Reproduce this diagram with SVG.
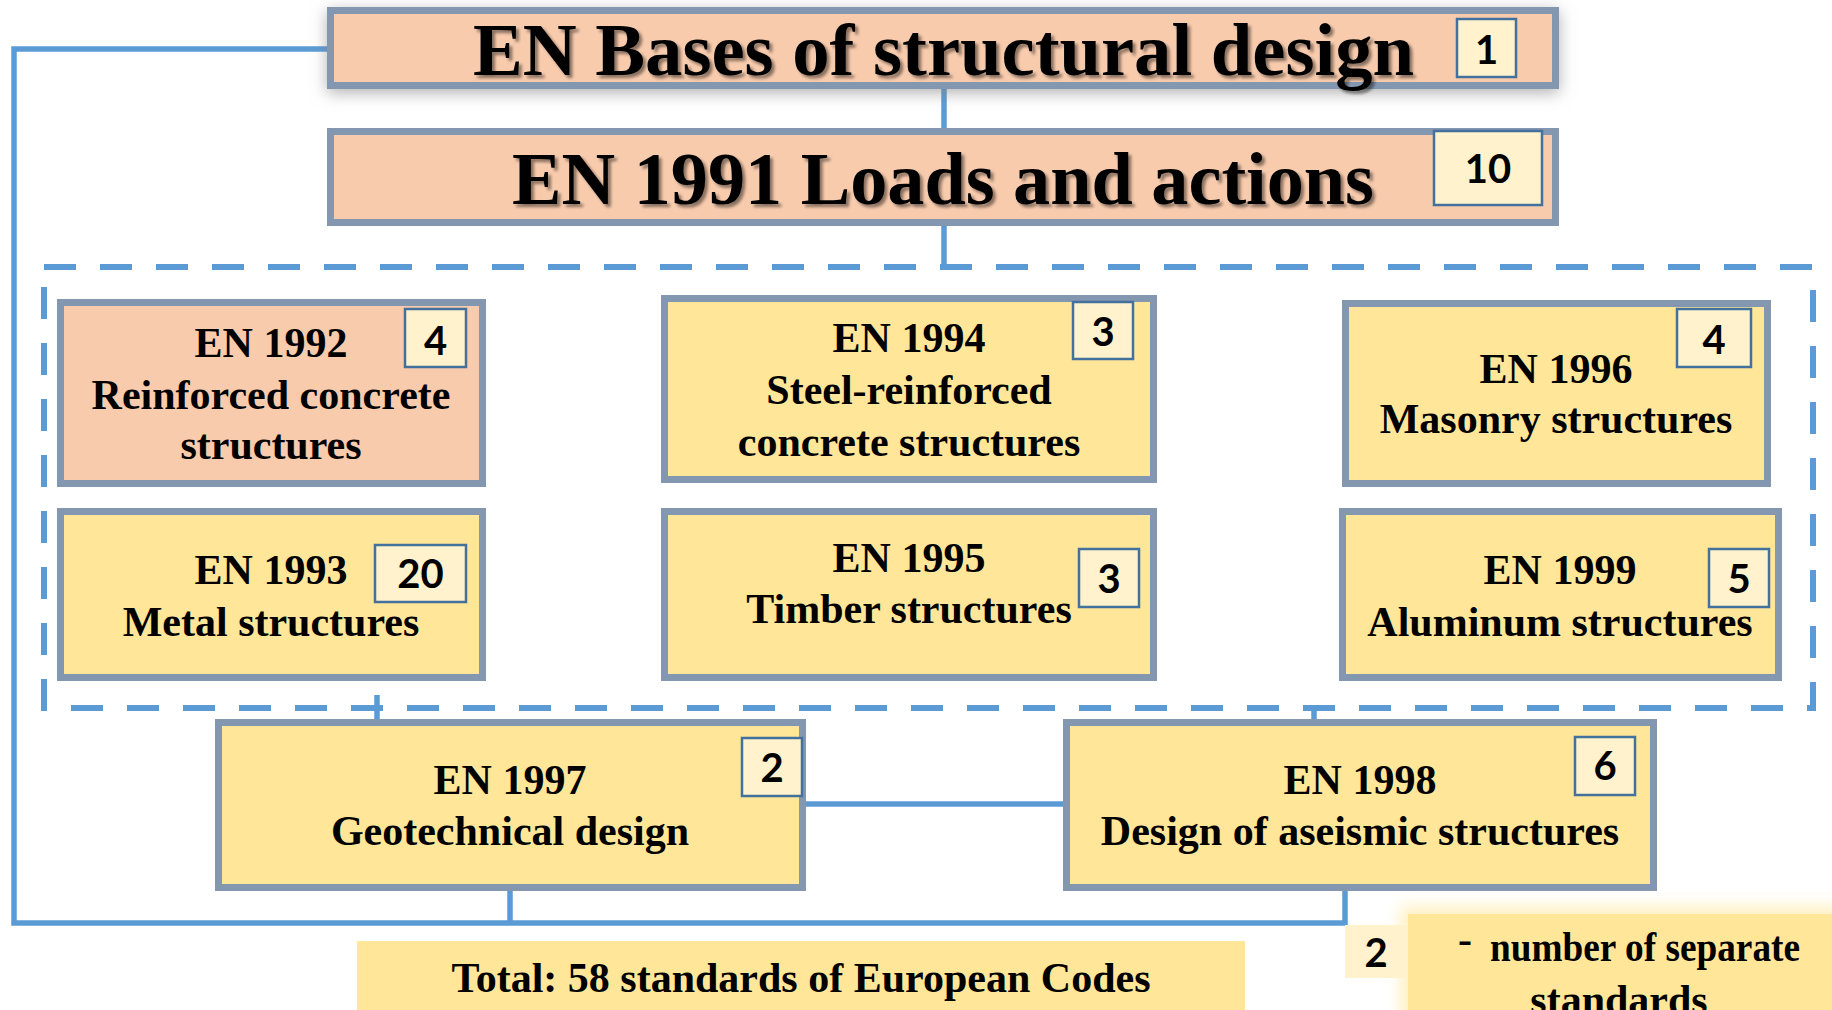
<svg xmlns="http://www.w3.org/2000/svg" width="1832" height="1010" viewBox="0 0 1832 1010">
<defs>
<filter id="boxShadow" x="-5%" y="-40%" width="110%" height="190%">
<feDropShadow dx="0" dy="4" stdDeviation="8" flood-color="#7f7f7f" flood-opacity="0.6"/>
</filter>
<filter id="txtShadow" x="-5%" y="-20%" width="110%" height="150%">
<feDropShadow dx="3" dy="3" stdDeviation="1.5" flood-color="#000" flood-opacity="0.45"/>
</filter>
<filter id="glow" x="-20%" y="-30%" width="140%" height="160%">
<feGaussianBlur stdDeviation="8"/>
</filter>
<style>
.conn{fill:none;stroke:#5B9BD5;stroke-width:5.5}
.dash{fill:none;stroke:#5B9BD5;stroke-width:6;stroke-dasharray:32 24}
.peach{fill:#F8CBAD;stroke:#8497B0;stroke-width:7}
.yel{fill:#FFE699;stroke:#8497B0;stroke-width:7}
.badge{fill:#FFF2CC;stroke:#41719C;stroke-width:2.5}
.t{font-family:"Liberation Serif","Times New Roman",serif;font-weight:bold;font-size:42px;fill:#000;text-anchor:middle}
.title{font-family:"Liberation Serif","Times New Roman",serif;font-weight:bold;font-size:74px;fill:#000;text-anchor:middle}
.n{font-family:Lato,"Liberation Sans",sans-serif;font-weight:bold;font-size:40px;fill:#000;text-anchor:middle}
</style>
</defs>
<rect width="1832" height="1010" fill="#fff"/>

<g id="connectors">
<path class="conn" d="M327,49 L14,49 L14,923 L1345,923 L1345,891"/>
<path class="conn" d="M944,89 V128"/>
<path class="conn" d="M944,226 V267"/>
<path class="conn" d="M510,891 V923"/>
<path class="conn" d="M806,804 H1063"/>
<path class="conn" d="M377,695 V719"/>
<path class="conn" d="M1314,706 V719"/>
<rect id="group-frame" class="dash" x="44" y="267" width="1769" height="441"/>
</g>

<g id="node-bases">
<rect class="peach" x="330.5" y="10.5" width="1225" height="75" filter="url(#boxShadow)"/>
<text class="title" x="943.5" y="75" textLength="941" lengthAdjust="spacingAndGlyphs" filter="url(#txtShadow)">EN Bases of structural design</text>
<rect class="badge" x="1457" y="19" width="59" height="58"/>
<text class="n" x="1486.5" y="64">1</text>
</g>

<g id="node-1991">
<rect class="peach" x="330.5" y="131.5" width="1225" height="91"/>
<text class="title" x="943" y="204" textLength="862" lengthAdjust="spacingAndGlyphs" filter="url(#txtShadow)">EN 1991 Loads and actions</text>
<rect class="badge" x="1434" y="131" width="108" height="74"/>
<text class="n" x="1488" y="183" font-size="36">10</text>
</g>

<g id="node-1992">
<rect class="peach" x="60.5" y="302.5" width="422" height="181"/>
<text class="t" x="271"><tspan x="271" y="357">EN 1992</tspan><tspan x="271" y="409">Reinforced concrete</tspan><tspan x="271" y="459">structures</tspan></text>
<rect class="badge" x="405" y="309" width="61" height="58"/>
<text class="n" x="435.5" y="355">4</text>
</g>

<g id="node-1993">
<rect class="yel" x="60.5" y="511.5" width="422" height="166"/>
<text class="t"><tspan x="271" y="584">EN 1993</tspan><tspan x="271" y="636">Metal structures</tspan></text>
<rect class="badge" x="375" y="545" width="91" height="57"/>
<text class="n" x="420.5" y="588" font-size="38">20</text>
</g>

<g id="node-1994">
<rect class="yel" x="664.5" y="298.5" width="489" height="181"/>
<text class="t"><tspan x="909" y="352">EN 1994</tspan><tspan x="909" y="404">Steel-reinforced</tspan><tspan x="909" y="456">concrete structures</tspan></text>
<rect class="badge" x="1073" y="302" width="60" height="57"/>
<text class="n" x="1103" y="346">3</text>
</g>

<g id="node-1995">
<rect class="yel" x="664.5" y="511.5" width="489" height="166"/>
<text class="t"><tspan x="909" y="572">EN 1995</tspan><tspan x="909" y="623">Timber structures</tspan></text>
<rect class="badge" x="1079" y="549" width="60" height="58"/>
<text class="n" x="1109" y="593">3</text>
</g>

<g id="node-1996">
<rect class="yel" x="1345.5" y="303.5" width="422" height="180"/>
<text class="t"><tspan x="1556" y="383">EN 1996</tspan><tspan x="1556" y="433">Masonry structures</tspan></text>
<rect class="badge" x="1677" y="309" width="74" height="58"/>
<text class="n" x="1714" y="354">4</text>
</g>

<g id="node-1999">
<rect class="yel" x="1342.5" y="511.5" width="436" height="166"/>
<text class="t"><tspan x="1560" y="584">EN 1999</tspan><tspan x="1560" y="636">Aluminum structures</tspan></text>
<rect class="badge" x="1709" y="549" width="60" height="58"/>
<text class="n" x="1739" y="593">5</text>
</g>

<g id="node-1997">
<rect class="yel" x="218.5" y="722.5" width="584" height="165"/>
<text class="t"><tspan x="510" y="794">EN 1997</tspan><tspan x="510" y="845">Geotechnical design</tspan></text>
<rect class="badge" x="742" y="738" width="60" height="58"/>
<text class="n" x="772" y="782">2</text>
</g>

<g id="node-1998">
<rect class="yel" x="1066.5" y="722.5" width="587" height="165"/>
<text class="t"><tspan x="1360" y="794">EN 1998</tspan><tspan x="1360" y="845">Design of aseismic structures</tspan></text>
<rect class="badge" x="1575" y="737" width="60" height="58"/>
<text class="n" x="1605" y="780">6</text>
</g>

<g id="node-total">
<rect x="357" y="941" width="888" height="80" fill="#FFE699"/>
<text class="t" x="801" y="992">Total: 58 standards of European Codes</text>
</g>

<g id="legend">
<rect x="1400" y="906" width="450" height="120" fill="#FFE699" opacity="0.6" filter="url(#glow)"/>
<rect x="1408" y="914" width="430" height="100" fill="#FFE699"/>
<rect x="1345" y="925" width="63" height="53" fill="#FFF2CC"/>
<text class="n" x="1376" y="967" font-size="42">2</text>
<text class="t" font-size="36"><tspan x="1465" y="953">-</tspan><tspan x="1490" y="961" text-anchor="start" textLength="310" lengthAdjust="spacingAndGlyphs">number of separate</tspan><tspan x="1619" y="1014">standards</tspan></text>
</g>
</svg>
